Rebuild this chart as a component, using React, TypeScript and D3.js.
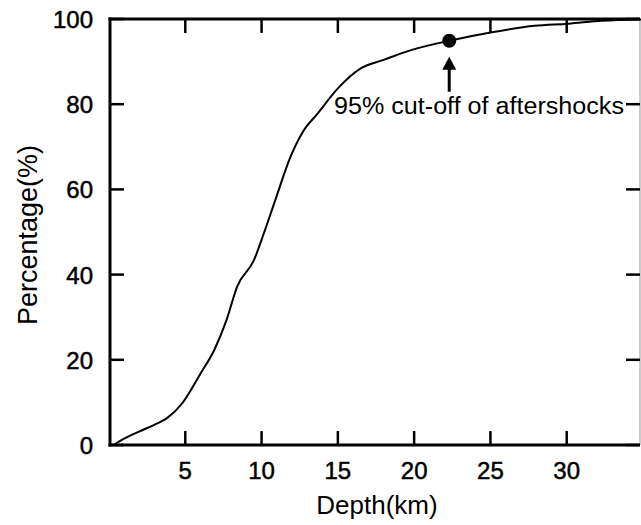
import React from "react";
import * as d3 from "d3";

const depthKm = [0.3, 0.9, 2.0, 3.0, 3.8, 4.8, 6.0, 6.9, 7.7, 8.4, 9.5, 10.15, 10.9, 11.9, 12.7, 13.7, 15.0, 16.5, 18.0, 19.8, 22.3, 25.1, 27.9, 30.1, 32.3, 34.9];
const percentage = [0, 1.3, 3.2, 4.8, 6.3, 9.8, 16.8, 22.3, 29.3, 37.2, 43.4, 49.7, 57.5, 67.7, 73.5, 77.9, 83.7, 88.4, 90.4, 92.7, 94.9, 96.9, 98.4, 98.9, 99.6, 99.9];
const xTicks = [5, 10, 15, 20, 25, 30];
const yTicks = [0, 20, 40, 60, 80, 100];
const cutoffDepth = 22.3;
const cutoffPct = 94.9;
const annotationText = "95% cut-off of aftershocks";
const xTitle = "Depth(km)";
const yTitle = "Percentage(%)";

const W = 641;
const H = 525;
const FONT = "'Liberation Sans', Arial, Helvetica, sans-serif";

export default function App() {
  const x = d3.scaleLinear().domain([0, 35]).range([109, 643]);
  const y = d3.scaleLinear().domain([0, 100]).range([445, 19]);
  const left = 110;
  const right = 640;
  const top = y(100);
  const bottom = y(0);
  const tick = 14;
  const pts = depthKm.map((d, i) => [d, percentage[i]] as [number, number]);
  const line = d3
    .line<[number, number]>()
    .x((d) => x(d[0]))
    .y((d) => y(d[1]))
    .curve(d3.curveMonotoneX);

  const cx = x(cutoffDepth);
  const cy = y(cutoffPct);
  const arrowTop = cy + 16;
  const arrowBottom = cy + 51;

  return (
    <svg
      width={W}
      height={H}
      style={{ position: "absolute", left: 0, top: 0, background: "#fff" }}
      fontFamily={FONT}
    >
      <rect x={0} y={0} width={W} height={H} fill="#fff" />
      {/* right frame line (thin) */}
      <line x1={right} x2={right} y1={top} y2={bottom} stroke="#999" strokeWidth={1} />
      {/* curve */}
      <path d={line(pts) || ""} fill="none" stroke="#000" strokeWidth={2} strokeLinejoin="round" />
      {/* ticks */}
      {xTicks.map((t) => (
        <g key={"xt" + t}>
          <line x1={x(t)} x2={x(t)} y1={bottom} y2={bottom - tick} stroke="#000" strokeWidth={2.5} />
          <line x1={x(t)} x2={x(t)} y1={top} y2={top + tick} stroke="#000" strokeWidth={2.5} />
          <text x={x(t)} y={bottom + 34} textAnchor="middle" fontSize={24} fill="#000" stroke="#000" strokeWidth={0.5}>
            {t}
          </text>
        </g>
      ))}
      {yTicks.map((t) => (
        <g key={"yt" + t}>
          <line x1={left} x2={left + tick} y1={y(t)} y2={y(t)} stroke="#000" strokeWidth={2.5} />
          <line x1={right} x2={right - tick} y1={y(t)} y2={y(t)} stroke="#000" strokeWidth={2.5} />
          <text x={93} y={y(t) + 9} textAnchor="end" fontSize={24} fill="#000" stroke="#000" strokeWidth={0.5}>
            {t}
          </text>
        </g>
      ))}
      {/* axes */}
      <line x1={left} x2={left} y1={top - 1.5} y2={bottom + 1.5} stroke="#000" strokeWidth={3} />
      <line x1={left - 1.5} x2={right} y1={bottom} y2={bottom} stroke="#000" strokeWidth={3} />
      <line x1={left - 1.5} x2={right} y1={top} y2={top} stroke="#000" strokeWidth={3} />
      {/* cutoff marker */}
      <circle cx={cx} cy={cy} r={7} fill="#000" />
      <line x1={cx} x2={cx} y1={arrowBottom} y2={arrowTop + 10} stroke="#000" strokeWidth={3} />
      <path
        d={`M${cx},${arrowTop} L${cx - 7},${arrowTop + 13} L${cx + 7},${arrowTop + 13} Z`}
        fill="#000"
      />
      <text x={624} y={114} textAnchor="end" fontSize={23} fill="#000" textLength={290} lengthAdjust="spacingAndGlyphs">
        {annotationText}
      </text>
      {/* titles */}
      <text x={377} y={514} textAnchor="middle" fontSize={26} fill="#000">
        {xTitle}
      </text>
      <text
        transform={`translate(37, ${(top + bottom) / 2 + 3}) rotate(-90)`}
        textAnchor="middle"
        fontSize={27}
        fill="#000"
      >
        {yTitle}
      </text>
    </svg>
  );
}
